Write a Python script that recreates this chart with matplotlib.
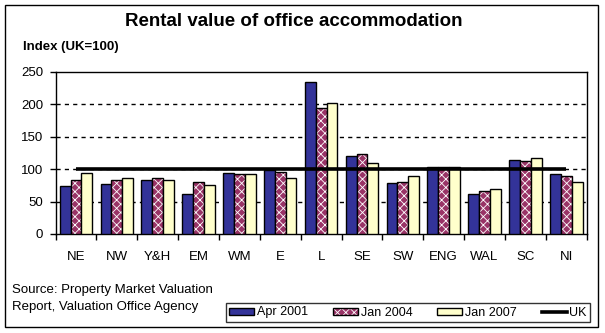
import matplotlib
matplotlib.use("Agg")
import matplotlib.pyplot as plt
from matplotlib.patches import Patch, Rectangle
from matplotlib.lines import Line2D
from matplotlib.legend_handler import HandlerTuple
import numpy as np

plt.rcParams['font.family'] = ['Liberation Sans', 'DejaVu Sans']
plt.rcParams['hatch.linewidth'] = 0.6

regions = ["NE", "NW", "Y&H", "EM", "WM", "E", "L", "SE", "SW", "ENG", "WAL", "SC", "NI"]
apr2001 = [74, 77, 84, 61, 94, 98, 234, 121, 78, 103, 61, 114, 92]
jan2004 = [83, 84, 86, 80, 92, 95, 195, 123, 81, 103, 66, 112, 89]
jan2007 = [94, 86, 84, 75, 92, 87, 202, 109, 89, 103, 70, 118, 80]
uk_index = 100
yticks = [0, 50, 100, 150, 200, 250]

W, H = 605, 333
fig = plt.figure(figsize=(W / 100, H / 100), dpi=100)
ax = fig.add_axes([55.5 / W, 1 - 234 / H, (586.7 - 55.5) / W, (234 - 72) / H])

x = np.arange(len(regions))
bw = 0.265
blue = '#333399'
pink = '#993366'
yellow = '#FFFFCC'
hatch = 'xxxx'

ax.bar(x - bw, apr2001, bw, color=blue, edgecolor='black', linewidth=1.0, zorder=3)
ax.bar(x, jan2004, bw, color=pink, edgecolor='white', hatch=hatch, linewidth=0, zorder=3)
ax.bar(x, jan2004, bw, fill=False, edgecolor='black', linewidth=1.0, zorder=3)
ax.bar(x + bw, jan2007, bw, color=yellow, edgecolor='black', linewidth=1.0, zorder=3)

ax.plot([x[0], x[-1]], [uk_index, uk_index], color='black', linewidth=2.6, zorder=4,
        solid_capstyle='butt')

ax.set_xlim(-0.5, len(regions) - 0.5)
ax.set_ylim(0, 250)
ax.set_yticks(yticks)
ax.set_xticks(x)
ax.set_xticklabels(regions)
ax.set_xticks(np.arange(len(regions) + 1) - 0.5, minor=True)
ax.tick_params(axis='x', which='major', length=0, pad=12, labelsize=9.5)
ax.tick_params(axis='x', which='minor', length=4.5, width=1, direction='out')
ax.tick_params(axis='y', length=4, width=1, direction='out', pad=5, labelsize=9.5)
for g in [50, 100, 150, 200]:
    ax.axhline(g, color='black', linestyle=(0, (3, 3)), linewidth=1, zorder=1)
for s in ax.spines.values():
    s.set_linewidth(1)

fig.text(294 / W, 1 - 22 / H, "Rental value of office accommodation", ha='center', va='center',
         fontsize=13.5, fontweight='bold')
fig.text(23 / W, 1 - 47 / H, "Index (UK=100)", ha='left', va='center', fontsize=9.5,
         fontweight='bold')
fig.text(12 / W, 1 - 290 / H, "Source: Property Market Valuation", ha='left', va='center',
         fontsize=9.5)
fig.text(12 / W, 1 - 307 / H, "Report, Valuation Office Agency", ha='left', va='center',
         fontsize=9.5)

fig.patches.append(Rectangle((5 / W, 1 - 327 / H), (598 - 5) / W, (327 - 5) / H,
                             transform=fig.transFigure, fill=False, edgecolor='black',
                             linewidth=1))

h1 = Patch(facecolor=blue, edgecolor='black')
h2 = (Patch(facecolor=pink, edgecolor='white', hatch=hatch, linewidth=0),
      Patch(fill=False, edgecolor='black'))
h3 = Patch(facecolor=yellow, edgecolor='black')
h4 = Line2D([0], [0], color='black', linewidth=2.6)
leg = fig.legend([h1, h2, h3, h4], ["Apr 2001", "Jan 2004", "Jan 2007", "UK"],
                 handler_map={tuple: HandlerTuple(ndivide=1)},
                 loc='center', bbox_to_anchor=((226 + 590) / 2 / W, 1 - 312.5 / H),
                 ncol=4, fontsize=9, frameon=True, fancybox=False, edgecolor='black',
                 handlelength=2.0, handleheight=0.5, handletextpad=0.2, columnspacing=2.0,
                 borderpad=0.3)
leg.get_frame().set_linewidth(1)

fig.savefig("out.png", dpi=100)
